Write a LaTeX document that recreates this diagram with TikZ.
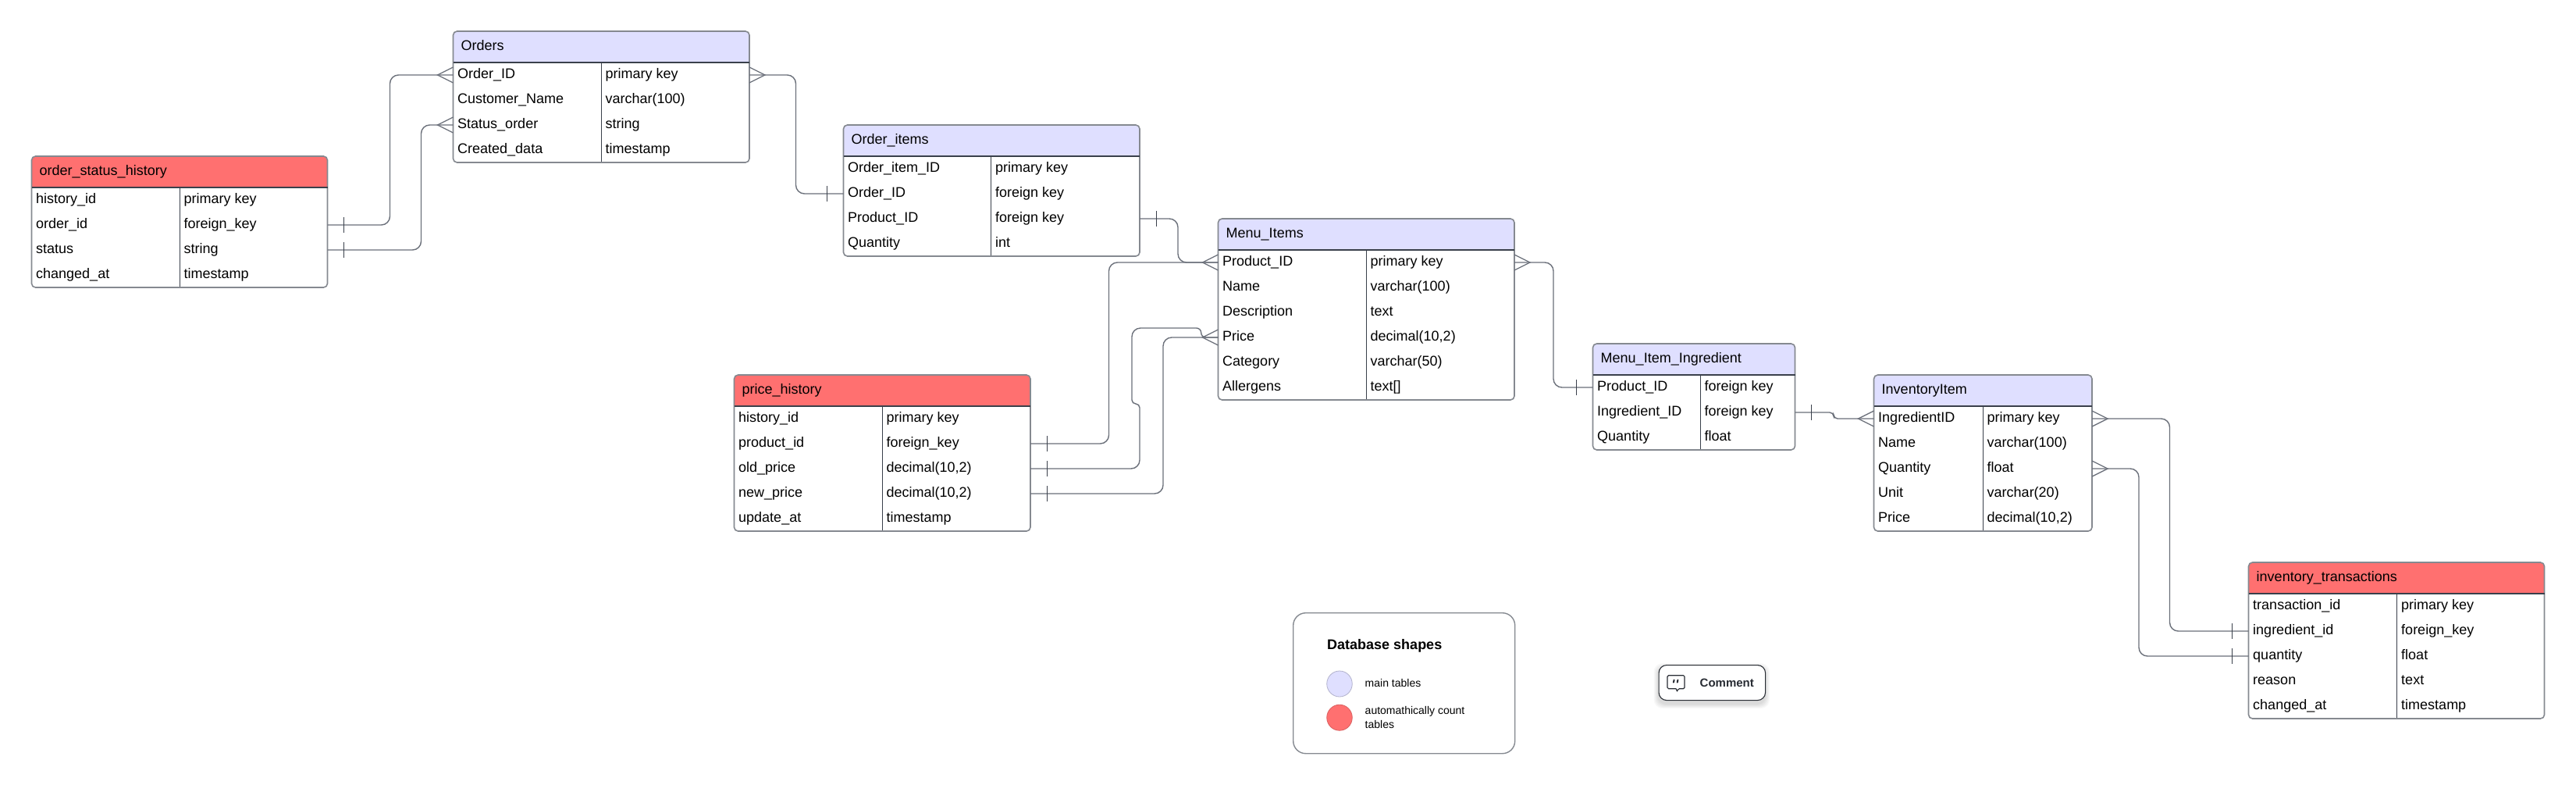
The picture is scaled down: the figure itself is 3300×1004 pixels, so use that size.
\documentclass[tikz,border=0pt]{standalone}
\usepackage{fontspec}
\setmainfont{Liberation Sans}
\usetikzlibrary{calc,shapes.geometric}
\definecolor{mainfill}{HTML}{DFDFFF}
\definecolor{autofill}{HTML}{FF7070}
\definecolor{edgegray}{HTML}{858990}
\definecolor{inkdark}{HTML}{3A404B}
\definecolor{linkgray}{HTML}{6B707A}
\definecolor{commentink}{HTML}{282C33}
\tikzset{
  rowbox/.style={draw=none,inner sep=0pt,outer sep=0pt,anchor=north west},
  celltext/.style={inner sep=0pt,anchor=base west,font=\fontsize{18}{22}\selectfont,text=black},
  tableedge/.style={draw=edgegray,line width=1.6pt,rounded corners=5pt,inner sep=0pt,outer sep=0pt,anchor=north west},
  conn/.style={draw=linkgray,line width=1.4pt,rounded corners=11pt},
  crowmark/.style={draw=linkgray,line width=1.3pt},
  tickmark/.style={draw=inkdark,line width=0.9pt},
}
% name, x, y, width, divider x, rows, fill, title, rows list
\newcommand\ertable[9]{%
  \pgfmathsetmacro\tblH{40+32*#6}%
  \pgfmathsetmacro\tblR{#2+#4}%
  \pgfmathsetmacro\tblHB{#3+40}%
  \pgfmathsetmacro\tblB{#3+\tblH}%
  \fill[#7] (#2,\tblHB) [rounded corners=5pt] -- (#2,#3) -- (\tblR,#3) [sharp corners] -- (\tblR,\tblHB) -- cycle;
  \draw[draw=inkdark,line width=0.7pt] (#5,\tblHB) -- (#5,\tblB);
  \node[tableedge,minimum width=#4pt,minimum height=\tblH pt] (#1) at (#2,#3) {};
  \draw[draw=inkdark,line width=1.4pt] (#2,\tblHB) -- (\tblR,\tblHB);
  \pgfmathsetmacro\tblTX{#2+10}%
  \pgfmathsetmacro\tblTY{#3+24}%
  \node[celltext] (#1-title) at (\tblTX,\tblTY) {#8};
  \foreach \cola/\colb [count=\i] in {#9} {
    \pgfmathsetmacro\rowY{#3+40+32*(\i-1)}%
    \pgfmathsetmacro\baseY{\rowY+20}%
    \pgfmathsetmacro\txtA{#2+5.5}%
    \pgfmathsetmacro\txtB{#5+5.5}%
    \node[rowbox,minimum width=#4pt,minimum height=32pt] (#1-\i) at (#2,\rowY) {};
    \node[celltext] (#1-\i-a) at (\txtA,\baseY) {\cola};
    \node[celltext] (#1-\i-b) at (\txtB,\baseY) {\colb};
  }
}
% connector: from east anchor of a, via vertical at x of bend coord, to west anchor of b
\newcommand\linkhv[3]{\coordinate (bnd) at (#2,0);
  \draw[conn] (#1.east) -- (#1.east -| bnd) -- (#3.west -| bnd) -- (#3.west);}
\newcommand\crowleft[1]{\draw[crowmark] ($(#1.west)+(0,-10)$) -- ($(#1.west)+(-20,0)$) -- ($(#1.west)+(0,10)$);}
\newcommand\crowright[1]{\draw[crowmark] ($(#1.east)+(0,-10)$) -- ($(#1.east)+(20,0)$) -- ($(#1.east)+(0,10)$);}
\newcommand\tickright[1]{\draw[tickmark] ($(#1.east)+(21,-10)$) -- ($(#1.east)+(21,10)$);}
\newcommand\tickleft[1]{\draw[tickmark] ($(#1.west)+(-21,-10)$) -- ($(#1.west)+(-21,10)$);}
\begin{document}
\begin{tikzpicture}[x=1pt,y=-1pt]
\useasboundingbox (0,0) rectangle (3300,1004);
\fill[white] (0,0) rectangle (3300,1004);

\ertable{hist}{40.5}{200}{379}{230}{4}{autofill}{order\_status\_history}{history\_id/primary key,order\_id/foreign\_key,status/string,changed\_at/timestamp}
\ertable{orders}{580.5}{40}{379.5}{770}{4}{mainfill}{Orders}{Order\_ID/primary key,Customer\_Name/varchar(100),Status\_order/string,Created\_data/timestamp}
\ertable{items}{1080.5}{160}{379.5}{1269.5}{4}{mainfill}{Order\_items}{Order\_item\_ID/primary key,Order\_ID/foreign key,Product\_ID/foreign key,Quantity/int}
\ertable{menu}{1560.5}{280}{379.5}{1750}{6}{mainfill}{Menu\_Items}{Product\_ID/primary key,Name/varchar(100),Description/text,Price/{decimal(10,2)},Category/varchar(50),Allergens/{text[]}}
\ertable{price}{940.5}{480}{379.5}{1130}{5}{autofill}{price\_history}{history\_id/primary key,product\_id/foreign\_key,old\_price/{decimal(10,2)},new\_price/{decimal(10,2)},update\_at/timestamp}
\ertable{mii}{2040.5}{440}{259}{2178}{3}{mainfill}{Menu\_Item\_Ingredient}{Product\_ID/foreign key,Ingredient\_ID/foreign key,Quantity/float}
\ertable{inv}{2400.5}{480}{279.5}{2540}{5}{mainfill}{InventoryItem}{IngredientID/primary key,Name/varchar(100),Quantity/float,Unit/varchar(20),Price/{decimal(10,2)}}
\ertable{trans}{2880.5}{720}{379}{3070.5}{5}{autofill}{inventory\_transactions}{transaction\_id/primary key,ingredient\_id/foreign\_key,quantity/float,reason/text,changed\_at/timestamp}

\linkhv{hist-2}{499.5}{orders-1}
\linkhv{hist-3}{539.5}{orders-3}
\linkhv{orders-1}{1019.5}{items-2}
\linkhv{items-3}{1509}{menu-1}
\linkhv{price-2}{1420.5}{menu-1}
\linkhv{price-4}{1490}{menu-4}
\linkhv{menu-1}{1990}{mii-1}
\linkhv{inv-1}{2779.5}{trans-2}
\linkhv{inv-3}{2740}{trans-3}
\coordinate (ka) at (1460,517);
\coordinate (kb) at (1450,420);
\coordinate (kc) at (1538.7,432);
\draw[conn] (price-3.east) -- (price-3.east -| ka) [rounded corners=5pt] -- (ka) -- (ka -| kb) [rounded corners=11pt] -- (kb) [rounded corners=6pt] -- (kb -| kc) -- (menu-4.west -| kc) -- (menu-4.west);
\coordinate (kd) at (2349,0);
\draw[conn,rounded corners=5pt] (mii-2.east) -- (mii-2.east -| kd) -- (inv-1.west -| kd) -- (inv-1.west);

\crowleft{orders-1}\crowleft{orders-3}\crowleft{menu-1}\crowleft{menu-4}\crowleft{inv-1}
\crowright{orders-1}\crowright{menu-1}\crowright{inv-1}\crowright{inv-3}
\tickright{hist-2}\tickright{hist-3}\tickright{items-3}\tickright{price-2}\tickright{price-3}\tickright{price-4}\tickright{mii-2}
\tickleft{items-2}\tickleft{mii-1}\tickleft{trans-2}\tickleft{trans-3}

% legend
\node[draw=edgegray,line width=1.4pt,rounded corners=16pt,fill=white,inner sep=0pt,minimum width=284pt,minimum height=180pt,anchor=north west] (legend) at (1656,784) {};
\node[inner sep=0pt,anchor=base west,font=\fontsize{18}{22}\selectfont\bfseries] (legendtitle) at (1700,831.5) {Database shapes};
\node[ellipse,draw=mainfill!80!black,line width=0.8pt,fill=mainfill,inner sep=0pt,minimum width=32.5pt,minimum height=33pt] (dotmain) at (1716,875.5) {};
\node[ellipse,draw=autofill!85!black,line width=0.8pt,fill=autofill,inner sep=0pt,minimum width=32.5pt,minimum height=33pt] (dotauto) at (1716,918.7) {};
\node[inner sep=0pt,anchor=base west,font=\fontsize{14}{18}\selectfont] (legendmain) at (1748.5,879) {main tables};
\node[inner sep=0pt,anchor=base west,font=\fontsize{14}{18}\selectfont] (legendauto1) at (1748.5,914) {automathically count};
\node[inner sep=0pt,anchor=base west,font=\fontsize{14}{18}\selectfont] (legendauto2) at (1748.5,932) {tables};

% comment chip
\foreach \g in {1,...,6} {
  \fill[black,opacity=0.022,rounded corners=11pt] ({2124.5-\g},{851+4-\g}) rectangle ({2261+\g},{896+5+\g});
}
\node[draw=commentink,line width=1.1pt,rounded corners=10pt,fill=white,inner sep=0pt,minimum width=136.5pt,minimum height=45pt,anchor=north west] (chip) at (2124.5,851) {};
\node[inner sep=0pt,anchor=base west,font=\fontsize{15}{18}\selectfont\bfseries,text=commentink] (chiptext) at (2177.5,879) {Comment};
\draw[draw=commentink,line width=1.1pt,line join=round,rounded corners=1.5pt] (2147,881.7) -- (2136,881.7) -- (2136,864.7) -- (2158,864.7) -- (2158,881.7) -- (2150,881.7) [sharp corners] -- (2148.5,885) -- (2147,881.7);
\draw[commentink,line width=2pt,line cap=round] (2144.6,870.5) -- (2143.9,873.6) (2149.4,870.5) -- (2148.7,873.6);
\end{tikzpicture}
\end{document}
